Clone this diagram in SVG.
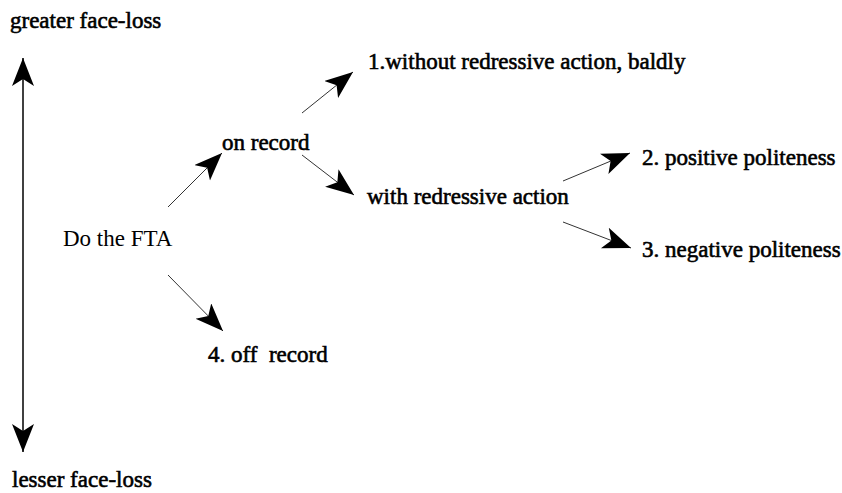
<svg xmlns="http://www.w3.org/2000/svg" width="842" height="493" viewBox="0 0 842 493">
<style>
text{font-family:"Liberation Serif","Times New Roman",serif;fill:#000;font-size:23px;white-space:pre}
.b{stroke:#000;stroke-width:0.6}
.ln{stroke:#333;stroke-width:1;fill:none}
.vl{stroke:#000;stroke-width:1.5;fill:none}
</style>
<defs>
<marker id="ah" markerUnits="userSpaceOnUse" markerWidth="30" markerHeight="24" viewBox="0 0 30 24" refX="28" refY="11" orient="auto-start-reverse">
<path d="M0,0 L28,11 L0,22 L7,11 Z" fill="#000"/>
</marker>
</defs>
<rect width="842" height="493" fill="#fff"/>
<g id="greater"><text class="b" x="10" y="28">greater face-loss</text></g>
<g id="lesser"><text class="b" x="12" y="487">lesser face-loss</text></g>
<g id="fta"><text x="63" y="246">Do the FTA</text></g>
<g id="onrecord"><text class="b" x="222" y="150">on record</text></g>
<g id="baldly"><text class="b" x="368" y="69">1.without redressive action, baldly</text></g>
<g id="redressive"><text class="b" x="367" y="204">with redressive action</text></g>
<g id="positive"><text class="b" x="642" y="165">2. positive politeness</text></g>
<g id="negative"><text class="b" x="642" y="257">3. negative politeness</text></g>
<g id="offrecord"><text class="b" x="208" y="362">4. off  record</text></g>
<g id="connectors">
<line class="vl" x1="23" y1="58" x2="23" y2="452" marker-start="url(#ah)" marker-end="url(#ah)"/>
<line class="ln" x1="168" y1="207" x2="222" y2="153" marker-end="url(#ah)"/>
<line class="ln" x1="302" y1="113" x2="353" y2="72" marker-end="url(#ah)"/>
<line class="ln" x1="302" y1="155" x2="354" y2="195" marker-end="url(#ah)"/>
<line class="ln" x1="563" y1="181" x2="630" y2="153" marker-end="url(#ah)"/>
<line class="ln" x1="563" y1="222" x2="631" y2="248" marker-end="url(#ah)"/>
<line class="ln" x1="168" y1="275" x2="223" y2="331" marker-end="url(#ah)"/>
</g>
</svg>
